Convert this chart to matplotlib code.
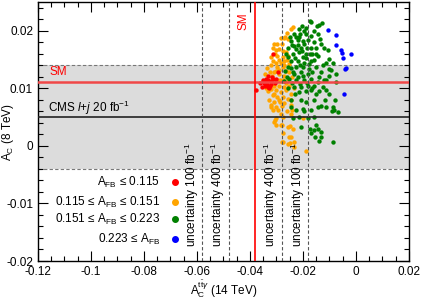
import matplotlib
matplotlib.use("Agg")
import matplotlib.pyplot as plt
from matplotlib.ticker import MultipleLocator, FuncFormatter

plt.rcParams['font.family'] = ['Liberation Sans', 'DejaVu Sans']
plt.rcParams['mathtext.fontset'] = 'custom'
plt.rcParams['mathtext.rm'] = 'Liberation Sans'
plt.rcParams['mathtext.it'] = 'Liberation Sans:italic'
plt.rcParams['mathtext.bf'] = 'Liberation Sans:bold'

# reference values
sm_14 = -0.038
sm_8 = 0.0111
cms_8 = 0.005
cms_band = (-0.004, 0.014)
unc_lines = [-0.058, -0.048, -0.028, -0.018]
unc_labels = [r'uncertainty 100 fb$^{-1}$', r'uncertainty 400 fb$^{-1}$',
              r'uncertainty 400 fb$^{-1}$', r'uncertainty 100 fb$^{-1}$']

# scan points, A_C(14 TeV, ttgamma) vs A_C(8 TeV)
red_x = [-0.0313, -0.0294, -0.0332, -0.0317, -0.0340, -0.0351, -0.0332, -0.0321,
         -0.0306, -0.0347, -0.0336, -0.0325, -0.0313, -0.0362, -0.0302, -0.0377,
         -0.0355, -0.0328, -0.0340, -0.0345, -0.0330, -0.0320]
red_y = [0.0160, 0.0129, 0.0122, 0.0119, 0.0117, 0.0114, 0.0114, 0.0112,
         0.0110, 0.0109, 0.0107, 0.0105, 0.0116, 0.0110, 0.0117, 0.0097,
         0.0103, 0.0100, 0.0111, 0.0105, 0.0102, 0.0108]

orange_x = [-0.0245, -0.0239, -0.0283, -0.0273, -0.0268, -0.0308, -0.0296, -0.0280,
            -0.0314, -0.0302, -0.0289, -0.0277, -0.0264, -0.0296, -0.0277, -0.0258,
            -0.0314, -0.0302, -0.0283, -0.0270, -0.0252, -0.0321, -0.0296, -0.0277,
            -0.0264, -0.0308, -0.0289, -0.0270, -0.0252, -0.0296, -0.0277, -0.0258,
            -0.0308, -0.0289, -0.0270, -0.0252, -0.0321, -0.0302, -0.0283, -0.0264,
            -0.0245, -0.0314, -0.0296, -0.0277, -0.0258, -0.0308, -0.0289, -0.0270,
            -0.0321, -0.0302, -0.0245, -0.0245, -0.0314, -0.0283, -0.0302, -0.0277,
            -0.0245, -0.0308, -0.0283, -0.0258, -0.0302, -0.0239, -0.0277, -0.0245,
            -0.0255, -0.0279, -0.0235, -0.0321, -0.0287, -0.0278, -0.0306, -0.0280,
            -0.0249, -0.0274, -0.0253, -0.0249, -0.0233, -0.0199, -0.0190,
            -0.0345, -0.0340, -0.0330, -0.0350, -0.0325, -0.0318, -0.0335, -0.0290,
            -0.0285, -0.0265, -0.0272, -0.0260, -0.0255, -0.0262, -0.0305, -0.0290,
            -0.0320, -0.0300, -0.0240, -0.0235, -0.0242, -0.0260, -0.0295, -0.0310,
            -0.0328]
orange_y = [0.0203, 0.0206, 0.0188, 0.0187, 0.0190, 0.0178, 0.0177, 0.0177,
            0.0171, 0.0167, 0.0168, 0.0165, 0.0163, 0.0157, 0.0154, 0.0157,
            0.0148, 0.0145, 0.0145, 0.0148, 0.0142, 0.0140, 0.0137, 0.0137,
            0.0131, 0.0128, 0.0125, 0.0122, 0.0128, 0.0114, 0.0114, 0.0117,
            0.0105, 0.0105, 0.0102, 0.0105, 0.0099, 0.0097, 0.0094, 0.0097,
            0.0091, 0.0088, 0.0085, 0.0085, 0.0082, 0.0076, 0.0079, 0.0074,
            0.0068, 0.0068, 0.0079, 0.0071, 0.0062, 0.0056, 0.0048, 0.0051,
            0.0056, 0.0042, 0.0036, 0.0033, 0.0036, 0.0030, 0.0022, 0.0016,
            0.0003, 0.0007, -0.0001, 0.0072, 0.0076, 0.0069, 0.0045, 0.0036,
            0.0034, 0.0007, 0.0015, 0.0005, 0.0007, 0.0049, -0.0008,
            0.0125, 0.0100, 0.0095, 0.0112, 0.0128, 0.0122, 0.0135, 0.0132,
            0.0115, 0.0110, 0.0140, 0.0150, 0.0185, 0.0197, 0.0160, 0.0150,
            0.0155, 0.0130, 0.0120, 0.0100, 0.0063, 0.0060, 0.0062, 0.0090,
            0.0080]

green_x = [-0.0174, -0.0170, -0.0205, -0.0147, -0.0138, -0.0128, -0.0214, -0.0195,
           -0.0233, -0.0210, -0.0189, -0.0226, -0.0170, -0.0142, -0.0245, -0.0220,
           -0.0201, -0.0182, -0.0157, -0.0132, -0.0233, -0.0258, -0.0208, -0.0170,
           -0.0151, -0.0107, -0.0264, -0.0239, -0.0214, -0.0189, -0.0164, -0.0145,
           -0.0101, -0.0113, -0.0088, -0.0245, -0.0220, -0.0195, -0.0170, -0.0258,
           -0.0226, -0.0201, -0.0176, -0.0151, -0.0101, -0.0094, -0.0239, -0.0208,
           -0.0182, -0.0132, -0.0075, -0.0252, -0.0226, -0.0195, -0.0170, -0.0145,
           -0.0113, -0.0075, -0.0233, -0.0208, -0.0182, -0.0157, -0.0126, -0.0214,
           -0.0170, -0.0151, -0.0113, -0.0101, -0.0245, -0.0208, -0.0189, -0.0157,
           -0.0145, -0.0113, -0.0088, -0.0082, -0.0069, -0.0245, -0.0226, -0.0201,
           -0.0170, -0.0239, -0.0214, -0.0182, -0.0208, -0.0151, -0.0145, -0.0132,
           -0.0157, -0.0170, -0.0132, -0.0085,
           -0.0250, -0.0240, -0.0228, -0.0218, -0.0205, -0.0195, -0.0185, -0.0200,
           -0.0230, -0.0255, -0.0210, -0.0188, -0.0175, -0.0160, -0.0178, -0.0245,
           -0.0232, -0.0262, -0.0240, -0.0220, -0.0198, -0.0185, -0.0210, -0.0165,
           -0.0140, -0.0125, -0.0150, -0.0120, -0.0135, -0.0160, -0.0190, -0.0215,
           -0.0268, -0.0272, -0.0255, -0.0190, -0.0165, -0.0140, -0.0120, -0.0100,
           -0.0118, -0.0130, -0.0195, -0.0230, -0.0160, -0.0175, -0.0155, -0.0140,
           -0.0080, -0.0090]
green_y = [0.0218, 0.0216, 0.0209, 0.0209, 0.0210, 0.0213, 0.0203, 0.0200,
           0.0194, 0.0194, 0.0194, 0.0190, 0.0191, 0.0194, 0.0183, 0.0184,
           0.0183, 0.0184, 0.0180, 0.0177, 0.0174, 0.0171, 0.0171, 0.0171,
           0.0171, 0.0166, 0.0160, 0.0160, 0.0163, 0.0160, 0.0160, 0.0157,
           0.0151, 0.0145, 0.0145, 0.0148, 0.0148, 0.0145, 0.0148, 0.0137,
           0.0137, 0.0137, 0.0134, 0.0137, 0.0134, 0.0132, 0.0128, 0.0128,
           0.0125, 0.0128, 0.0125, 0.0117, 0.0114, 0.0114, 0.0117, 0.0111,
           0.0114, 0.0111, 0.0102, 0.0102, 0.0104, 0.0105, 0.0102, 0.0094,
           0.0097, 0.0091, 0.0097, 0.0091, 0.0079, 0.0079, 0.0076, 0.0079,
           0.0068, 0.0068, 0.0068, 0.0062, 0.0059, 0.0068, 0.0062, 0.0065,
           0.0062, 0.0048, 0.0051, 0.0048, 0.0033, 0.0036, 0.0030, 0.0025,
           0.0028, 0.0022, 0.0016, 0.0007,
           0.0190, 0.0176, 0.0168, 0.0176, 0.0165, 0.0178, 0.0170, 0.0155,
           0.0152, 0.0155, 0.0140, 0.0152, 0.0160, 0.0150, 0.0142, 0.0135,
           0.0125, 0.0120, 0.0110, 0.0120, 0.0122, 0.0110, 0.0108, 0.0128,
           0.0120, 0.0140, 0.0160, 0.0170, 0.0185, 0.0200, 0.0205, 0.0190,
           0.0130, 0.0112, 0.0100, 0.0095, 0.0100, 0.0095, 0.0115, 0.0122,
           0.0080, 0.0070, 0.0060, 0.0090, 0.0050, 0.0030, 0.0015, 0.0008,
           0.0080, 0.0060]

blue_x = [-0.0105, -0.0077, -0.0074, -0.0055, -0.0053, -0.0019, -0.0048, -0.0039,
          -0.0042, -0.0046]
blue_y = [0.0201, 0.0193, 0.0175, 0.0166, 0.0162, 0.0159, 0.0153, 0.0136,
          0.0133, 0.0090]

legend_labels = ['A$_{\\mathrm{FB}}$ ≤ 0.115',
                 '0.115 ≤ A$_{\\mathrm{FB}}$ ≤ 0.151',
                 '0.151 ≤ A$_{\\mathrm{FB}}$ ≤ 0.223',
                 '0.223 ≤ A$_{\\mathrm{FB}}$']
colors = ['#ff0000', '#ffa500', '#008000', '#0000ff']

fig = plt.figure(figsize=(4.22, 3.0), dpi=100)
ax = fig.add_axes([0.09, 0.13, 0.879, 0.863])

ax.axhspan(cms_band[0], cms_band[1], color='#dcdcdc', lw=0, zorder=0)
for yb in cms_band:
    ax.axhline(yb, color='#777777', lw=0.8, ls=(0, (3, 2)), zorder=1)

ax.scatter(orange_x, orange_y, s=10, color=colors[1], lw=0, zorder=2)
ax.scatter(green_x, green_y, s=10, color=colors[2], lw=0, zorder=2)
ax.scatter(blue_x, blue_y, s=10, color=colors[3], lw=0, zorder=2)
ax.scatter(red_x, red_y, s=10, color=colors[0], lw=0, zorder=3)

ax.axhline(sm_8, color='#f04848', lw=1.8, zorder=4)
ax.axhline(cms_8, color='#222222', lw=1.2, zorder=4)
ax.axvline(sm_14, color='#ff0000', lw=1.2, zorder=4)
for xv, lab in zip(unc_lines, unc_labels):
    ax.axvline(xv, color='#555555', lw=0.8, ls=(0, (3, 2)), zorder=4)
    ax.text(xv - 0.0006, -0.0175, lab, rotation=90, ha='right', va='bottom',
            fontsize=8.5, zorder=5)

ax.text(-0.1158, 0.0118, 'SM', color='#ff0000', fontsize=8.5, va='bottom')
ax.text(-0.1162, 0.0059, r'CMS $l$+$j$ 20 fb$^{-1}$', fontsize=8.5, va='baseline')
ax.text(sm_14 - 0.0022, 0.0202, 'SM', color='#ff0000', fontsize=8.5,
        rotation=90, ha='right', va='bottom')

leg_y = [0.305, 0.228, 0.162, 0.085]
for lab, c, yy in zip(legend_labels, colors, leg_y):
    ax.text(0.329, yy, lab, transform=ax.transAxes, ha='right', va='center',
            fontsize=8.5)
    ax.plot([0.369], [yy], 'o', color=c, ms=4, transform=ax.transAxes)

ax.set_xlim(-0.12, 0.02)
ax.set_ylim(-0.02, 0.025)
ax.xaxis.set_major_locator(MultipleLocator(0.02))
ax.xaxis.set_minor_locator(MultipleLocator(0.005))
ax.yaxis.set_major_locator(MultipleLocator(0.01))
ax.yaxis.set_minor_locator(MultipleLocator(0.002))
fmt = FuncFormatter(lambda v, p: '%g' % round(v, 4))
ax.xaxis.set_major_formatter(fmt)
ax.yaxis.set_major_formatter(fmt)
ax.tick_params(which='both', direction='in', top=True, right=True, labelsize=8.5)
ax.tick_params(which='major', length=7, width=0.8)
ax.tick_params(which='minor', length=3.5, width=0.8)
for sp in ax.spines.values():
    sp.set_linewidth(1.0)

ax.set_xlabel(r'A$_{\mathrm{C}}^{\mathrm{t\bar{t}}\gamma}$ (14 TeV)', fontsize=8.5)
ax.set_ylabel(r'A$_{\mathrm{C}}$ (8 TeV)', fontsize=8.5)
ax.xaxis.set_label_coords(0.5, -0.068)
ax.yaxis.set_label_coords(-0.060, 0.5)

fig.savefig('out.png', dpi=100)
